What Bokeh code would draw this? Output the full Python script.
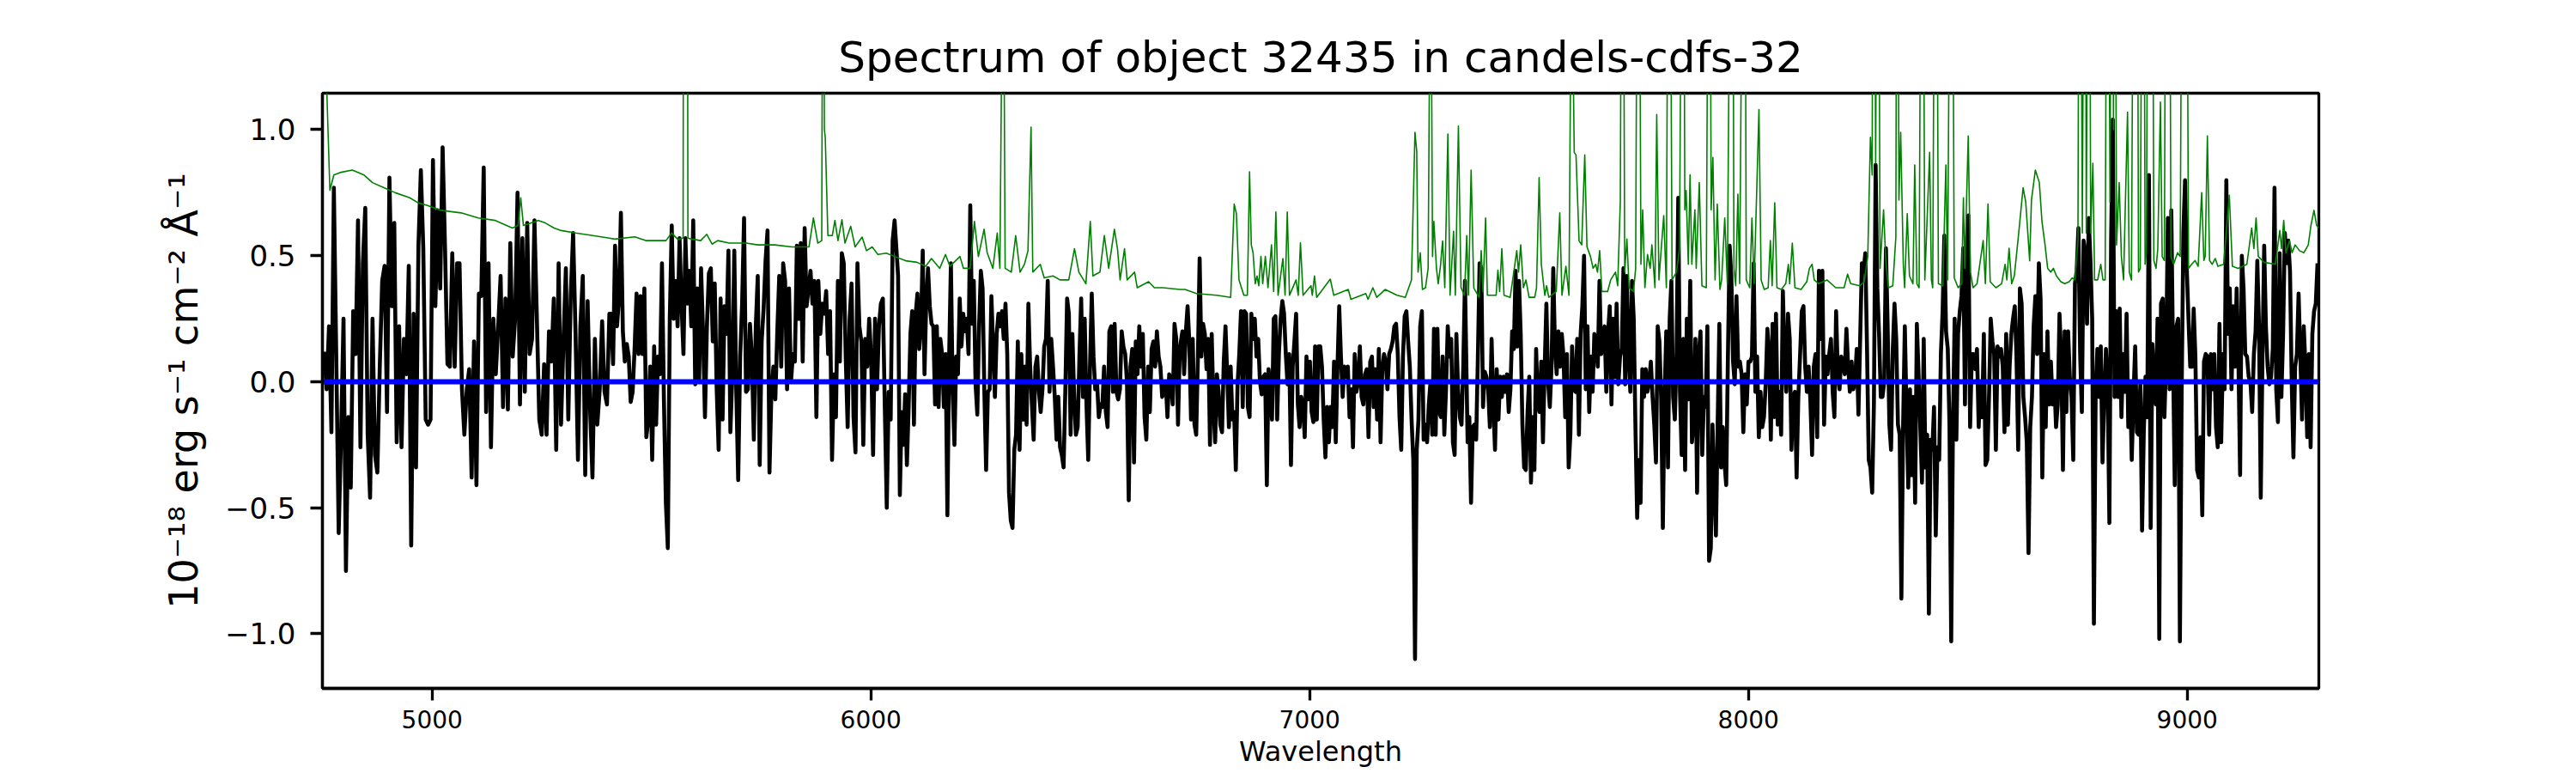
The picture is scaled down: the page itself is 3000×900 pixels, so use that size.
import numpy as np
from bokeh.plotting import figure
from bokeh.models import Range1d, FixedTicker, CustomJSTickFormatter
from bokeh.embed import file_html
from bokeh.resources import INLINE

TITLE = "Spectrum of object 32435 in candels-cdfs-32"
X_LABEL = "Wavelength"
Y_LABEL = "10\u207b\u00b9\u2078 erg s\u207b\u00b9 cm\u207b\u00b2 \u00c5\u207b\u00b9"
X_TICKS = [5000, 6000, 7000, 8000, 9000]
Y_TICKS = [-1.0, -0.5, 0.0, 0.5, 1.0]

# wavelength span covered by each block of flux readings
SEG_RANGES = [(4754, 5404), (5408, 6054), (6062, 6704), (6710, 7354),
              (7360, 8004), (8008, 8654), (8658, 9297)]

FLUX_A = [0.12, -0.03, 0.22, -0.20, 0.77, 0.10, -0.60, -0.21, 0.25, -0.75, -0.14, -0.42, 0.28, 0.11, 0.64,
          -0.26, 0.47, 0.69, -0.21, -0.46, 0.25, -0.29, -0.36, 0.06, 0.40, 0.46, -0.12, 0.81, 0.30, 0.63,
          -0.24, 0.22, -0.26, 0.17, 0.03, 0.46, -0.65, 0.27, -0.34, 0.54, 0.84, 0.53, -0.15, -0.17, -0.15,
          0.88, 0.30, 0.68, 0.37, 0.93, 0.53, 0.07, 0.06, 0.51, 0.06, 0.47, 0.47, -0.03, -0.21, -0.03, 0.05,
          -0.38, 0.16, -0.41, 0.35, 0.34, 0.85, -0.12, 0.47, -0.26, 0.25, 0.03, 0.22, 0.42, -0.10, 0.33,
          -0.11, 0.55, 0.10, 0.25, 0.75, -0.09, 0.57, -0.04, 0.63, 0.11, 0.17, 0.64, 0.25, -0.15, -0.21,
          0.07, -0.21, 0.20, 0.08, 0.33, -0.27, 0.47, -0.17, 0.16, 0.45, -0.15, 0.34, 0.59, 0.19, -0.31,
          0.22, 0.42, -0.37, 0.32, -0.10, -0.38, 0.17, -0.17, -0.03, 0.24, -0.04, -0.09, 0.27]

FLUX_B = [0.27, 0.07, 0.54, 0.22, 0.33, 0.67, 0.20, 0.08, 0.15, 0.10, -0.08, -0.04, 0.13, 0.35, 0.11, 0.34,
          0.11, 0.37, -0.22, -0.15, 0.06, -0.31, 0.14, -0.17, 0.10, 0.03, 0.47, -0.07, -0.48, -0.66, 0.25,
          0.62, 0.25, 0.40, 0.22, 0.57, 0.31, 0.11, 0.57, 0.31, 0.44, 0.22, 0.64, -0.01, 0.37, 0.00, 0.45,
          0.20, -0.14, 0.22, 0.43, 0.45, 0.16, 0.39, -0.03, -0.27, 0.33, -0.15, 0.30, 0.19, 0.52, -0.20,
          0.03, 0.52, -0.03, -0.39, 0.10, 0.31, 0.65, -0.04, -0.03, 0.23, 0.10, -0.23, 0.22, 0.42, -0.33,
          0.16, 0.29, 0.48, 0.60, -0.36, -0.04, 0.06, -0.07, 0.20, 0.42, 0.06, 0.47, 0.40, -0.03, 0.37,
          0.00, 0.11, 0.08, 0.54, 0.25, 0.55, 0.08, 0.61, 0.30, 0.37, 0.44, 0.31, 0.40, -0.14, 0.40, 0.19,
          0.31, 0.27, 0.36, 0.11, 0.28, -0.31, 0.03, -0.14, 0.40, 0.08, 0.51, 0.47, 0.10, -0.18, 0.25,
          0.39, -0.14, -0.28, 0.47, 0.22, 0.16, -0.25, 0.17, 0.06, 0.25, 0.10, -0.29, 0.25, -0.03, 0.22,
          0.31, 0.33, -0.10, -0.50, -0.04, -0.15, 0.56, 0.64]

FLUX_C = [0.42, -0.45, -0.12, -0.25, -0.05, -0.33, -0.10, 0.19, 0.28, -0.17, 0.27, 0.35, 0.13, 0.22, 0.52,
          0.03, 0.32, 0.45, 0.30, 0.23, 0.22, -0.09, 0.22, -0.10, 0.17, 0.11, -0.10, 0.11, -0.53, 0.10,
          0.47, -0.04, -0.25, 0.10, 0.03, 0.33, 0.14, 0.27, 0.20, 0.25, 0.11, 0.70, 0.23, 0.40, -0.01,
          -0.13, 0.22, 0.44, 0.37, -0.04, -0.35, -0.04, -0.03, 0.34, 0.13, -0.06, 0.19, 0.27, 0.22, 0.28,
          0.17, 0.31, 0.11, -0.44, -0.55, -0.58, -0.27, -0.21, 0.16, -0.27, 0.11, -0.15, 0.06, -0.17, 0.31,
          0.06, -0.09, -0.23, 0.06, 0.10, -0.04, -0.12, -0.03, 0.14, 0.17, 0.40, -0.04, 0.17, 0.06, -0.06,
          -0.23, -0.06, -0.26, -0.29, -0.34, -0.03, 0.33, 0.27, -0.21, 0.19, -0.06, -0.21, -0.18, 0.10,
          0.33, -0.06, 0.25, -0.09, -0.31, 0.06, 0.35, 0.10, -0.03, 0.00, -0.14, -0.09, -0.10, 0.06, -0.12,
          -0.18, 0.20, 0.22, -0.04, 0.23, -0.04, -0.07, -0.03, 0.20, 0.14, 0.11, 0.00, -0.47, 0.06, 0.13,
          -0.32, 0.16, 0.03, 0.22, 0.06, 0.19, -0.14, -0.23, 0.06, -0.12, 0.13, 0.16, 0.06, 0.20, 0.10,
          0.06, -0.06, -0.04, 0.00, -0.14, 0.03, 0.00, -0.09, 0.23, 0.17, -0.17, 0.13]

FLUX_D = [0.20, 0.03, 0.20, 0.30, 0.16, -0.15, 0.17, -0.17, -0.21, 0.10, 0.49, 0.10, 0.23, 0.19, 0.05, 0.17,
          -0.25, 0.19, -0.10, -0.24, 0.03, -0.04, -0.17, -0.20, 0.08, 0.22, 0.03, -0.18, 0.06, -0.15, -0.12,
          -0.35, -0.01, 0.11, 0.28, -0.10, 0.28, 0.27, -0.10, -0.14, 0.27, 0.17, 0.25, 0.10, 0.17, 0.00,
          -0.05, 0.02, 0.03, -0.41, 0.05, -0.03, -0.15, 0.25, 0.26, -0.15, 0.11, 0.25, 0.32, 0.27, 0.11,
          -0.01, 0.11, -0.33, 0.06, 0.16, 0.27, -0.09, -0.18, -0.06, -0.10, -0.22, 0.10, -0.07, 0.08, -0.12,
          -0.16, 0.14, -0.15, 0.14, 0.14, 0.06, -0.15, -0.30, -0.10, -0.24, -0.10, -0.18, 0.08, -0.24, 0.06,
          0.30, 0.10, -0.06, 0.06, 0.02, 0.06, -0.14, -0.03, -0.26, 0.11, -0.04, 0.00, 0.14, -0.06, -0.09,
          0.03, 0.05, -0.22, 0.08, 0.10, -0.10, 0.05, -0.15, 0.13, -0.24, 0.05, 0.11, 0.08, -0.03, 0.11,
          0.13, 0.16, 0.22, 0.23, 0.11, -0.14, -0.27, 0.10, 0.26, 0.28, 0.16, 0.06, -0.15, -0.31, -1.10,
          -0.27, -0.15, 0.22, 0.28, -0.23, -0.17, -0.24, -0.09, 0.00, -0.21, 0.21, -0.21, 0.21, -0.12,
          -0.14, 0.10, -0.21, -0.03, 0.22, 0.10, 0.17, -0.24, -0.29, 0.19, -0.03, -0.14, -0.17, 0.06, 0.40]

FLUX_E = [-0.24, -0.14, -0.48, -0.18, -0.17, -0.23, 0.10, 0.47, 0.45, -0.10, 0.04, 0.02, -0.03, -0.18, 0.17,
          -0.09, -0.27, 0.05, -0.15, 0.02, -0.06, 0.02, -0.04, 0.03, -0.12, -0.03, 0.20, 0.13, 0.44, 0.14,
          0.40, 0.19, -0.17, -0.34, -0.35, -0.12, 0.02, -0.40, -0.14, -0.35, 0.13, -0.09, -0.12, 0.08,
          -0.24, 0.06, 0.31, 0.00, -0.10, 0.06, 0.45, 0.14, 0.03, 0.20, 0.06, 0.19, 0.10, -0.14, 0.11,
          -0.34, -0.21, 0.14, -0.03, -0.04, 0.17, -0.21, 0.19, 0.30, 0.50, -0.03, 0.22, -0.12, 0.10, -0.04,
          0.19, 0.16, 0.06, 0.40, 0.11, 0.14, 0.22, -0.04, 0.19, 0.30, -0.09, 0.25, 0.02, 0.31, -0.01, 0.10,
          0.13, 0.45, -0.01, 0.42, 0.11, -0.04, 0.40, 0.25, -0.18, -0.54, -0.31, -0.48, 0.05, -0.06, 0.05,
          -0.04, 0.00, 0.08, -0.06, -0.17, -0.32, 0.22, 0.16, -0.06, -0.58, -0.06, 0.20, -0.34, 0.25, 0.40,
          -0.06, -0.15, 0.10, 0.73, -0.04, -0.29, 0.17, -0.35, 0.25, -0.07, 0.40, -0.24, -0.15, 0.17, -0.44,
          0.11, 0.20, -0.29, -0.06, -0.10, 0.22, -0.71, -0.66, -0.17, -0.41, -0.61, -0.17, 0.23, -0.34,
          -0.18, -0.32, -0.41, 0.10, 0.54, 0.42, 0.08, -0.01, 0.34, 0.06, 0.08, 0.03, -0.20, 0.03, -0.09,
          0.08, 0.08]

FLUX_F = [0.10, 0.47, -0.04, 0.10, -0.22, -0.04, -0.18, -0.14, -0.01, 0.21, 0.11, -0.23, 0.23, -0.14, 0.27,
          -0.17, -0.04, -0.21, 0.36, 0.10, -0.04, 0.27, 0.17, -0.27, -0.06, -0.04, -0.38, -0.06, 0.10, 0.28,
          0.30, 0.06, -0.04, 0.06, -0.07, -0.29, 0.06, 0.11, -0.22, 0.44, 0.17, 0.44, -0.17, 0.10, 0.03,
          0.11, 0.17, -0.04, -0.14, 0.28, 0.03, -0.03, 0.10, 0.08, 0.03, 0.21, 0.06, -0.04, 0.08, -0.03,
          0.00, 0.13, -0.13, 0.17, 0.47, 0.44, 0.51, 0.13, -0.31, -0.34, -0.44, -0.09, 0.86, 0.37, 0.19,
          -0.06, -0.06, 0.00, 0.53, 0.22, -0.17, -0.27, 0.13, 0.31, 0.17, -0.17, -0.21, -0.86, -0.17, 0.22,
          -0.12, -0.42, -0.03, -0.37, -0.06, -0.48, 0.23, 0.03, -0.18, -0.40, 0.17, -0.34, -0.21, -0.92,
          -0.23, -0.27, -0.10, -0.61, -0.26, -0.31, 0.11, 0.28, 0.58, 0.20, 0.13, -0.17, -1.03, -0.18, 0.25,
          -0.23, 0.19, 0.28, 0.34, 0.53, -0.09, 0.48, 0.66, -0.18, 0.11, 0.11, 0.05, 0.13, -0.18, -0.01,
          -0.14, 0.19, -0.33, -0.31, -0.06, 0.25, 0.16, 0.11, -0.27, 0.14, 0.10, 0.13, 0.06, -0.20, 0.19,
          -0.17, 0.06, 0.19, 0.25, 0.30, 0.10, -0.27, 0.37, 0.31, -0.06, -0.14, -0.24, -0.68, -0.18, -0.06,
          0.22, 0.34]

FLUX_G = [0.11, 0.47, 0.33, -0.38, 0.11, -0.18, 0.20, -0.09, 0.08, -0.09, 0.00, -0.18, -0.09, 0.27, 0.10,
          -0.35, 0.20, -0.12, 0.20, 0.02, -0.06, -0.31, 0.39, 0.44, 0.61, 0.11, -0.12, 0.56, 0.51, 0.23,
          0.65, 0.48, 0.25, -0.96, -0.06, 0.13, -0.06, 0.14, -0.32, -0.07, 0.13, -0.01, -0.56, 0.56, 1.04,
          -0.06, 0.28, -0.06, 0.29, -0.14, 0.11, -0.04, 0.27, -0.18, 0.00, -0.31, -0.06, 0.14, -0.20, -0.21,
          -0.01, -0.59, -0.20, 0.02, -0.14, 0.82, -0.58, 0.15, 0.00, -0.09, 0.25, -1.02, 0.31, 0.33, -0.14,
          0.10, 0.65, -0.03, 0.68, 0.10, -0.41, 0.22, 0.25, -1.03, -0.06, 0.59, 0.80, 0.45, 0.25, 0.06,
          0.06, 0.29, 0.10, -0.35, -0.38, -0.22, -0.53, 0.08, 0.11, 0.10, -0.21, 0.11, -0.03, 0.11, -0.18,
          -0.26, 0.23, -0.24, 0.11, -0.03, 0.80, 0.19, 0.37, -0.03, 0.30, 0.06, 0.37, 0.10, -0.37, 0.50,
          0.37, 0.11, 0.10, 0.02, 0.00, -0.12, 0.11, 0.20, 0.48, 0.22, -0.46, 0.10, 0.54, 0.22, 0.06, -0.01,
          0.02, 0.13, 0.77, -0.03, -0.16, 0.51, -0.06, 0.19, 0.59, 0.47, 0.56, 0.44, 0.00, -0.30, 0.06,
          0.11, 0.35, 0.11, -0.15, 0.22, 0.06, -0.22, 0.11, -0.26, 0.19, 0.28, 0.31, 0.47]

FLUX_SEGS = [FLUX_A, FLUX_B, FLUX_C, FLUX_D, FLUX_E, FLUX_F, FLUX_G]

# noise spectrum (green), read as wavelength / value pairs
NOISE_WAVE = [4750, 4752, 4767, 4776, 4790, 4818, 4845, 4864, 4890, 4916, 4949, 4968, 4988, 5020, 5066, 5105,
              5144, 5183, 5196, 5202, 5208, 5242, 5258, 5278, 5294, 5327, 5366, 5404,
              5416, 5462, 5488, 5533, 5546, 5560, 5572, 5577, 5583, 5592, 5612, 5626, 5638, 5651, 5677,
              5716, 5742, 5781, 5820, 5859, 5869, 5879, 5888, 5891, 5894, 5896, 5902, 5912, 5918, 5925,
              5934, 5941, 5954, 5964, 5980, 5990, 6003, 6016, 6035, 6054,
              6079, 6105, 6125, 6138, 6157, 6170, 6180, 6203, 6211, 6226, 6236, 6245, 6258, 6265, 6278,
              6288, 6294, 6299, 6301, 6303, 6306, 6320, 6330, 6340, 6350, 6358, 6365, 6369, 6386, 6395,
              6415, 6431, 6451, 6464, 6474, 6490, 6500, 6506, 6522, 6532, 6542, 6555, 6562, 6568, 6578,
              6584, 6601, 6607, 6633, 6646, 6666, 6704,
              6716, 6742, 6788, 6820, 6828, 6833, 6839, 6850, 6858, 6863, 6867, 6871, 6876, 6880, 6884,
              6889, 6893, 6899, 6905, 6913, 6918, 6923, 6928, 6939, 6944, 6949, 6954, 6969, 6974, 6979,
              6985, 7003, 7006, 7011, 7016, 7047, 7055, 7088, 7094, 7128, 7133, 7144, 7153, 7172, 7199,
              7218, 7232, 7240, 7244, 7247, 7252, 7257, 7264, 7270, 7274, 7276, 7278, 7280, 7283, 7289,
              7293, 7298, 7303, 7308, 7315, 7320, 7328, 7332, 7339, 7345,
              7353, 7358, 7362, 7368, 7374, 7386, 7391, 7395, 7401, 7405, 7425, 7429, 7433, 7438, 7443,
              7457, 7464, 7472, 7476, 7481, 7487, 7493, 7500, 7513, 7517, 7523, 7528, 7536, 7540, 7545,
              7562, 7570, 7575, 7584, 7591, 7596, 7598, 7601, 7603, 7607, 7614, 7620, 7627, 7632, 7640,
              7646, 7652, 7656, 7661, 7666, 7679, 7686, 7697, 7702, 7708, 7713, 7718, 7723, 7728, 7738,
              7743, 7749, 7755, 7759, 7764, 7770, 7776, 7780, 7787, 7791, 7796, 7807, 7813, 7819, 7826,
              7836, 7843, 7851, 7855, 7858, 7863, 7867, 7871, 7878, 7881, 7888, 7894, 7904, 7911, 7915,
              7919, 7924, 7929, 7935, 7939, 7946, 7952, 7963, 7967, 7971, 7976, 7980, 7991, 7995,
              8003, 8008, 8013, 8024, 8029, 8036, 8045, 8050, 8054, 8060, 8065, 8075, 8085, 8091, 8094,
              8100, 8106, 8120, 8133, 8139, 8145, 8150, 8160, 8179, 8199, 8218, 8226, 8233, 8254, 8264,
              8272, 8278, 8282, 8285, 8290, 8295, 8300, 8308, 8313, 8319, 8329, 8336, 8339, 8343, 8347,
              8353, 8356, 8362, 8367, 8375, 8379, 8384, 8389, 8396, 8402, 8413, 8417, 8420, 8427, 8433,
              8443, 8450, 8454, 8463, 8469, 8478, 8486, 8490, 8493, 8501, 8506, 8512, 8521, 8535, 8540,
              8546, 8551, 8564, 8577, 8585, 8589, 8594, 8600, 8606, 8616, 8626, 8632, 8641, 8645, 8654,
              8663, 8669, 8676, 8682, 8689, 8695, 8702, 8712, 8721, 8731, 8738, 8744, 8751, 8755, 8761,
              8767, 8770, 8776, 8780, 8785, 8789, 8796, 8803, 8808, 8813, 8819, 8824, 8829, 8832, 8834,
              8839, 8845, 8850, 8855, 8864, 8868, 8873, 8880, 8883, 8885, 8889, 8893, 8900, 8904, 8907,
              8913, 8916, 8919, 8924, 8929, 8933, 8939, 8943, 8948, 8953, 8956, 8958, 8963, 8969, 8978,
              8984, 8991, 8994, 8997, 9003, 9010, 9018, 9025, 9033, 9038, 9041, 9046, 9051, 9057, 9064,
              9070, 9083, 9096, 9103, 9116, 9136, 9147, 9152, 9157, 9162, 9175, 9201, 9211, 9215, 9220,
              9225, 9233, 9239, 9246, 9256, 9266, 9276, 9282, 9289, 9295, 9300]

NOISE_FLUX = [2.00, 1.60, 0.76, 0.82, 0.83, 0.84, 0.82, 0.79, 0.77, 0.75, 0.73, 0.71, 0.70, 0.68, 0.67, 0.65,
              0.64, 0.61, 0.62, 0.73, 0.62, 0.64, 0.63, 0.61, 0.60, 0.59, 0.58, 0.57,
              0.566, 0.575, 0.56, 0.56, 0.59, 0.565, 0.57, 8.0, 0.57, 0.566, 0.56, 0.585, 0.546, 0.56, 0.55,
              0.55, 0.543, 0.543, 0.535, 0.535, 0.65, 0.55, 0.56, 2.5, 1.0, 0.97, 0.58, 0.58, 0.64, 0.56,
              0.643, 0.55, 0.617, 0.535, 0.574, 0.52, 0.535, 0.505, 0.51, 0.497,
              0.48, 0.474, 0.458, 0.489, 0.45, 0.505, 0.458, 0.497, 0.45, 0.45, 0.636, 0.497, 0.605, 0.512,
              0.45, 0.59, 0.45, 1.5, 3.0, 1.5, 0.45, 0.435, 0.58, 0.435, 0.466, 0.52, 1.01, 0.435, 0.466,
              0.412, 0.42, 0.404, 0.404, 0.528, 0.435, 0.389, 0.636, 0.42, 0.435, 0.58, 0.45, 0.605, 0.528,
              0.404, 0.528, 0.404, 0.435, 0.373, 0.397, 0.373, 0.373, 0.366,
              0.366, 0.35, 0.343, 0.335, 0.705, 0.667, 0.404, 0.343, 0.343, 0.833, 0.543, 0.512, 0.389,
              0.42, 0.381, 0.497, 0.389, 0.497, 0.373, 0.543, 0.358, 0.674, 0.343, 0.489, 0.343, 0.674,
              0.343, 0.404, 0.343, 0.551, 0.343, 0.381, 0.343, 0.42, 0.335, 0.407, 0.343, 0.366, 0.327,
              0.35, 0.327, 0.373, 0.335, 0.366, 0.343, 0.335, 0.404, 0.99, 0.914, 0.435, 0.512, 0.366,
              0.373, 0.45, 1.5, 3.0, 1.2, 0.497, 0.636, 0.45, 0.389, 0.458, 0.559, 0.373, 0.983, 0.343,
              0.597, 0.343, 1.014, 0.373,
              0.343, 0.58, 0.343, 0.84, 0.373, 0.335, 0.52, 0.358, 0.65, 0.343, 0.343, 0.443, 0.358, 0.528,
              0.343, 0.335, 0.42, 0.52, 0.435, 0.543, 0.373, 0.404, 0.335, 0.335, 0.373, 0.81, 0.466, 0.343,
              0.381, 0.335, 0.358, 0.67, 0.343, 0.458, 0.343, 1.6, 3.0, 1.2, 0.91, 0.90, 0.559, 0.543, 0.90,
              0.536, 0.497, 0.45, 0.466, 0.435, 0.52, 0.358, 0.358, 0.404, 0.435, 0.381, 0.713, 3.0, 0.435,
              0.566, 0.373, 0.358, 0.45, 3.0, 0.466, 0.682, 0.373, 0.505, 0.45, 0.543, 0.373, 1.06, 0.404,
              0.659, 0.373, 3.0, 0.404, 0.435, 0.528, 3.0, 0.682, 0.759, 0.466, 0.821, 0.466, 0.682, 0.45,
              0.79, 0.381, 0.373, 3.0, 0.682, 0.89, 0.404, 0.705, 0.366, 0.404, 0.65, 0.389, 3.0, 0.45,
              0.381, 0.744, 0.389, 3.0, 0.404,
              0.373, 0.65, 0.389, 1.08, 0.404, 0.366, 0.373, 0.56, 0.381, 0.71, 0.373, 0.366, 0.389, 0.466,
              0.389, 0.55, 0.373, 0.366, 0.397, 0.45, 0.466, 0.404, 0.389, 0.404, 0.373, 0.373, 0.427,
              0.389, 0.381, 0.397, 0.497, 0.97, 0.82, 3.0, 0.867, 3.0, 0.45, 0.682, 0.481, 0.373, 0.381,
              0.574, 3.0, 0.721, 0.99, 0.466, 0.373, 0.667, 0.42, 0.389, 0.86, 0.389, 0.373, 3.0, 0.404,
              0.91, 0.404, 0.373, 3.0, 0.389, 0.381, 0.86, 0.404, 3.0, 0.412, 0.373, 0.389, 0.73, 0.45,
              0.975, 0.435, 0.373, 0.389, 0.56, 0.389, 0.705, 0.397, 0.373, 0.389, 0.466, 0.404, 0.53,
              0.389, 0.42, 0.59, 0.77, 0.713, 0.48, 0.72, 0.84,
              0.79, 0.636, 0.543, 0.45, 0.435, 0.45, 0.42, 0.397, 0.389, 0.397, 0.412, 0.404, 0.559, 3.0,
              0.59, 3.0, 0.59, 3.0, 0.59, 0.867, 0.404, 0.404, 0.466, 0.404, 0.404, 3.0, 0.713, 3.0, 1.0,
              3.0, 0.543, 0.79, 0.497, 0.404, 1.07, 0.435, 0.404, 3.0, 1.5, 3.0, 0.435, 0.45, 3.0, 0.466,
              0.512, 3.0, 1.2, 3.0, 0.481, 0.45, 0.528, 1.11, 0.497, 0.481, 3.0, 1.5, 3.0, 0.497, 0.466,
              0.512, 0.497, 3.0, 1.4, 3.0, 0.45, 0.466, 0.481, 0.458, 0.75, 0.481, 0.497, 0.975, 0.481,
              0.466, 0.489, 0.458, 0.466, 0.74, 0.458, 0.45, 0.466, 0.61, 0.528, 0.65, 0.497, 0.474, 0.466,
              0.60, 0.528, 0.64, 0.512, 0.559, 0.512, 0.543, 0.52, 0.512, 0.543, 0.62, 0.68, 0.62, 0.61]

# model (blue), flat at zero
MODEL_WAVE = [4750, 9300]
MODEL_FLUX = [0.0, 0.0]

wave = np.concatenate([np.linspace(lo, hi, len(f)) for (lo, hi), f in zip(SEG_RANGES, FLUX_SEGS)])
flux = np.concatenate([np.asarray(f, dtype=float) for f in FLUX_SEGS])

FONT = "DejaVu Sans"

p = figure(width=3000, height=900, output_backend="svg", toolbar_location=None,
           x_range=Range1d(4750, 9300), y_range=Range1d(-1.2164, 1.1448),
           min_border_left=375, min_border_right=300, min_border_top=108, min_border_bottom=99,
           background_fill_color="white", border_fill_color="white")

p.title.text = TITLE
p.title.align = "center"
p.title.text_font = FONT
p.title.text_font_size = "50px"
p.title.text_font_style = "normal"
p.title.text_color = "black"
p.title.standoff = 26

p.outline_line_color = "black"
p.outline_line_width = 3.3
p.outline_line_alpha = 1.0
p.xgrid.visible = False
p.ygrid.visible = False

for ax in (p.xaxis[0], p.yaxis[0]):
    ax.axis_line_width = 3.3
    ax.axis_line_color = "black"
    ax.major_tick_line_width = 3.3
    ax.major_tick_line_color = "black"
    ax.major_tick_out = 14
    ax.major_tick_in = 0
    ax.minor_tick_out = 0
    ax.minor_tick_in = 0
    ax.major_label_text_font = FONT
    ax.major_label_text_color = "black"
    ax.axis_label_text_font = FONT
    ax.axis_label_text_font_style = "normal"
    ax.axis_label_text_color = "black"

xa = p.xaxis[0]
xa.ticker = FixedTicker(ticks=X_TICKS)
xa.major_label_text_font_size = "28px"
xa.major_label_standoff = 11
xa.axis_label = X_LABEL
xa.axis_label_text_font_size = "32px"
xa.axis_label_standoff = 5

ya = p.yaxis[0]
ya.ticker = FixedTicker(ticks=Y_TICKS)
ya.formatter = CustomJSTickFormatter(code="return (tick < 0 ? '\u2212' : '') + Math.abs(tick).toFixed(1);")
ya.major_label_text_font_size = "34px"
ya.major_label_standoff = 17
ya.axis_label = Y_LABEL
ya.axis_label_text_font_size = "46px"
ya.axis_label_standoff = 18

p.line(wave, flux, line_color="black", line_width=4.6, line_join="round")
p.line(NOISE_WAVE, NOISE_FLUX, line_color="#008000", line_width=1.6, line_join="round")
p.line(MODEL_WAVE, MODEL_FLUX, line_color="#0000ff", line_width=6)

open("out.html", "w").write(file_html(p, INLINE))
